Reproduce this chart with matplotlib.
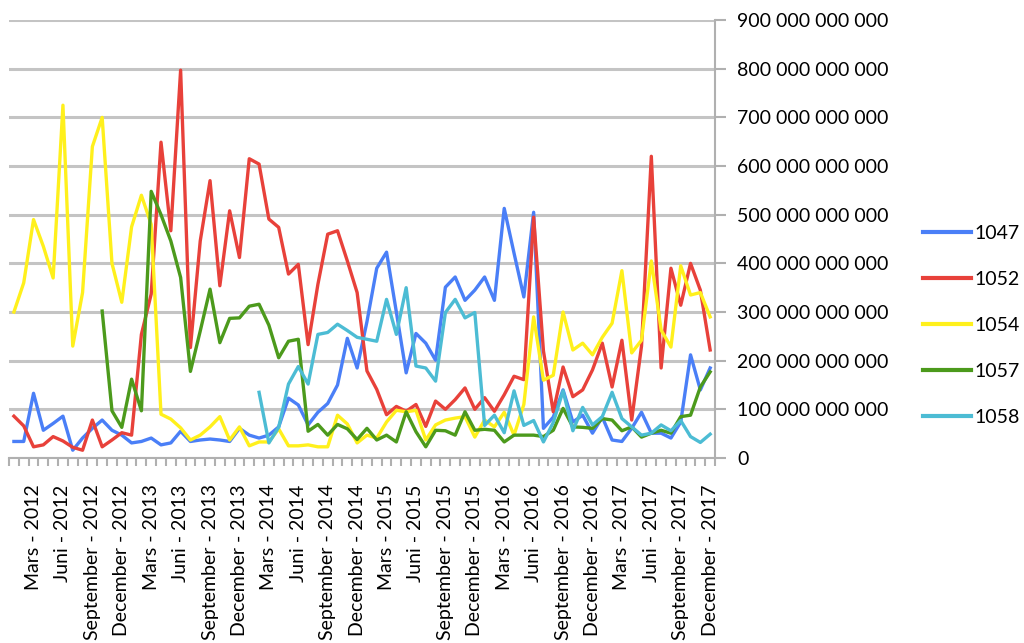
import numpy as np
import matplotlib.pyplot as plt
from matplotlib.ticker import FuncFormatter, FixedLocator

nan = np.nan

# monthly values in billions, Jan 2012 .. Dec 2017
months = ["Januar", "Februar", "Mars", "April", "Mai", "Juni",
          "Juli", "August", "September", "Oktober", "November", "December"]
years = [2012, 2013, 2014, 2015, 2016, 2017]
periods = [f"{m} - {y}" for y in years for m in months]

s1047 = [34, 34, 133, 57, 71, 86, 16, 41, 61, 78, 57, 47,
         31, 34, 41, 27, 31, 55, 34, 37, 39, 37, 34, 61,
         47, 41, 47, 64, 123, 109, 68, 94, 112, 150, 246, 185,
         280, 390, 423, 300, 175, 256, 236, 201, 351, 372, 324, 345,
         372, 324, 513, 421, 331, 505, 61, 84, 140, 74, 88, 51,
         84, 37, 34, 61, 94, 51, 51, 41, 74, 212, 140, 185]
s1052 = [86, 66, 23, 27, 44, 35, 22, 16, 78, 23, 37, 52,
         47, 254, 337, 649, 467, 797, 227, 446, 570, 354, 508, 412,
         615, 604, 491, 474, 378, 398, 233, 357, 460, 467, 405, 340,
         179, 141, 89, 106, 96, 110, 65, 117, 100, 120, 144, 100,
         124, 96, 130, 168, 161, 495, 220, 95, 187, 126, 140, 181,
         236, 146, 242, 78, 230, 620, 185, 390, 314, 400, 345, 222]
s1054 = [300, 360, 490, 435, 370, 725, 230, 340, 640, 700, 400, 320,
         475, 540, 480, 90, 80, 62, 37, 47, 64, 85, 37, 64,
         25, 33, 33, 60, 25, 25, 27, 23, 23, 88, 70, 31,
         47, 41, 74, 98, 95, 98, 37, 68, 78, 82, 85, 43,
         78, 64, 94, 47, 110, 290, 160, 170, 300, 222, 236, 212,
         248, 277, 385, 216, 242, 405, 263, 228, 395, 335, 340, 290]
s1057 = [nan, nan, nan, nan, nan, nan, nan, nan, nan, 302, 97, 63,
         162, 97, 548, 500, 446, 371, 178, 261, 347, 237, 287, 288,
         312, 316, 273, 206, 240, 244, 55, 69, 47, 69, 60, 38,
         61, 37, 47, 33, 95, 54, 23, 57, 56, 47, 95, 57,
         59, 57, 33, 47, 47, 47, 44, 57, 102, 64, 63, 61,
         81, 78, 56, 64, 43, 51, 57, 51, 85, 88, 146, 177]
s1058 = [nan, nan, nan, nan, nan, nan, nan, nan, nan, nan, nan, nan,
         nan, nan, nan, nan, nan, nan, nan, nan, nan, nan, nan, nan,
         nan, 135, 31, 63, 152, 188, 152, 254, 258, 275, 262, 248,
         244, 240, 326, 254, 350, 189, 185, 158, 299, 326, 288, 299,
         67, 88, 52, 138, 67, 77, 33, 73, 138, 56, 104, 68,
         85, 135, 81, 64, 47, 51, 68, 56, 77, 44, 32, 49]

names = ["1047", "1052", "1054", "1057", "1058"]
colors = ["#4a7ff7", "#e8413a", "#fff01c", "#4c9a1c", "#4cbcd4"]
series = [s1047, s1052, s1054, s1057, s1058]

plt.rcParams['font.family'] = ['Lato', 'DejaVu Sans']
fig = plt.figure(figsize=(10.24, 6.43), dpi=100)
ax = fig.add_axes([0.0088, 0.2877, 0.6895, 0.6811])

x = np.arange(len(periods))
for name, col, vals in zip(names, colors, series):
    ax.plot(x, np.array(vals, dtype=float) * 1e9, color=col, lw=2.4, label=name)

ax.set_xlim(-0.5, len(periods) - 0.5)
ax.set_ylim(0, 900e9)

# category axis: small ticks between months, labels every quarter
ax.xaxis.set_minor_locator(FixedLocator(np.arange(-0.5, len(periods), 1)))
lab_pos = np.arange(2, len(periods), 3)
ax.set_xticks(lab_pos)
ax.set_xticklabels([periods[i] for i in lab_pos], rotation=90, fontsize=14)
ax.tick_params(axis='x', which='major', length=0, pad=19)
ax.tick_params(axis='x', which='minor', length=6, width=1.5, color='#b0b0b0')

# value axis on the right
ax.yaxis.tick_right()
ax.set_yticks(np.arange(0, 901e9, 100e9))
ax.yaxis.set_major_formatter(FuncFormatter(lambda v, p: f"{v:,.0f}".replace(",", " ")))
ax.tick_params(axis='y', length=8, width=1.5, color='#b0b0b0', labelsize=14, pad=8)
ax.grid(axis='y', color='#c4c4c4', lw=2.2)
ax.set_axisbelow(True)

for side in ['left', 'top']:
    ax.spines[side].set_visible(False)
for side in ['right', 'bottom']:
    ax.spines[side].set_color('#b0b0b0')
    ax.spines[side].set_linewidth(1.5)

leg = ax.legend(loc='center left', bbox_to_anchor=(0.901, 0.494),
                bbox_transform=fig.transFigure, frameon=False, fontsize=14,
                handlelength=2.5, handletextpad=0.15, labelspacing=1.5,
                borderpad=0, borderaxespad=0)
for ln in leg.get_lines():
    ln.set_linewidth(3)

fig.savefig("out.png", dpi=100)
